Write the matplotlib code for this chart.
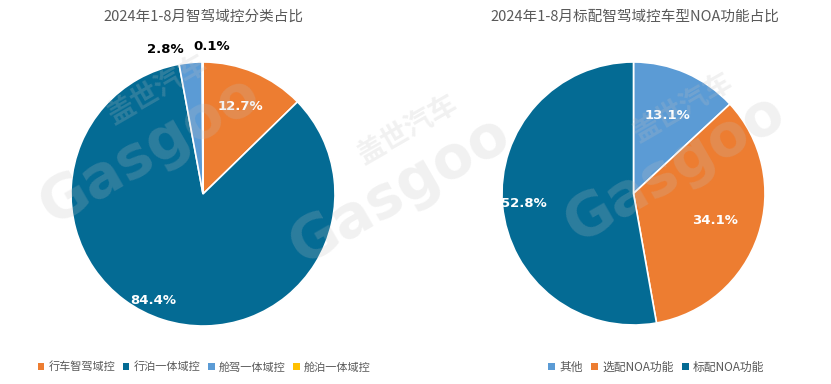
import numpy as np
import matplotlib
matplotlib.use("Agg")
from matplotlib import pyplot as plt
from matplotlib.patches import Patch

plt.rcParams['font.family'] = ['Noto Sans CJK SC', 'DejaVu Sans']

# left pie: domain controller category share
left_title = "2024年1-8月智驾域控分类占比"
left_labels = ["行车智驾域控", "行泊一体域控", "舱驾一体域控", "舱泊一体域控"]
left_values = [12.7, 84.4, 2.8, 0.1]

# right pie: NOA function share among standard-fit models
right_title = "2024年1-8月标配智驾域控车型NOA功能占比"
right_labels = ["其他", "选配NOA功能", "标配NOA功能"]
right_values = [13.1, 34.1, 52.8]

ORANGE = "#ED7D31"
TEAL = "#046B94"
LBLUE = "#5B9BD5"
YELLOW = "#FFC000"
GREY = "#595959"

left_colors = [ORANGE, TEAL, LBLUE, YELLOW]
right_colors = [LBLUE, ORANGE, TEAL]

# label placement per wedge: (radius, extra dx, extra dy, color)
left_lab = [(0.72, 0.0, 0.0, "white"), (0.85, -0.12, 0.0, "white"),
            (1.10, -0.18, 0.0, "black"), (1.12, 0.07, 0.0, "black")]
right_lab = [(0.65, 0.0, 0.0, "white"), (0.65, 0.0, 0.0, "white"),
             (0.84, 0.0, 0.0, "white")]


def draw_pie(ax, values, colors, labs):
    wedges, _ = ax.pie(values, colors=colors, startangle=90, counterclock=False,
                       wedgeprops=dict(edgecolor="white", linewidth=1.2))
    for w, v, (r, dx, dy, c) in zip(wedges, values, labs):
        ang = np.deg2rad((w.theta1 + w.theta2) / 2)
        x = r * np.cos(ang) + dx
        y = r * np.sin(ang) + dy
        ax.text(x, y, "%.1f%%" % v, ha="center", va="center", color=c,
                fontsize=9.5, fontweight="bold", family=["DejaVu Sans"], zorder=5)
    ax.set_xlim(-1, 1)
    ax.set_ylim(-1, 1)
    ax.set_aspect("equal")
    ax.axis("off")
    return wedges


fig = plt.figure(figsize=(8.31, 3.84), dpi=100)
fig.patch.set_facecolor("white")

ax1 = fig.add_axes([71 / 831, 58 / 384, 264 / 831, 264 / 384])
ax2 = fig.add_axes([502 / 831, 59 / 384, 263 / 831, 263 / 384])
draw_pie(ax1, left_values, left_colors, left_lab)
draw_pie(ax2, right_values, right_colors, right_lab)

fig.text(203 / 831, 1 - 17 / 384, left_title, ha="center", va="center",
         fontsize=10.5, color=GREY)
fig.text(635 / 831, 1 - 17 / 384, right_title, ha="center", va="center",
         fontsize=10.5, color=GREY)

# legends
h1 = [Patch(facecolor=c, edgecolor="none") for c in left_colors]
h2 = [Patch(facecolor=c, edgecolor="none") for c in right_colors]
kw = dict(loc="center", ncol=4, frameon=False, fontsize=8, handlelength=0.6,
          handleheight=0.6, handletextpad=0.35, columnspacing=0.7,
          labelcolor=GREY)
fig.legend(h1, left_labels, bbox_to_anchor=(204 / 831, 1 - 367 / 384), **kw)
kw["ncol"] = 3
kw["fontsize"] = 8.5
fig.legend(h2, right_labels, bbox_to_anchor=(656 / 831, 1 - 367 / 384), **kw)

# faint watermark
for cx, cy in [(150, 150), (400, 190), (675, 168)]:
    fig.text(cx / 831, 1 - cy / 384, "Gasgoo", ha="center", va="center",
             rotation=30, fontsize=42, color="#c0c0c0", alpha=0.22,
             fontweight="bold", family=["DejaVu Sans"], zorder=10)
    fig.text((cx + 8) / 831, 1 - (cy - 60) / 384, "盖世汽车", ha="center",
             va="center", rotation=30, fontsize=20, color="#c0c0c0",
             alpha=0.22, fontweight="bold", zorder=10)

fig.savefig("out.png", dpi=100, facecolor="white")
